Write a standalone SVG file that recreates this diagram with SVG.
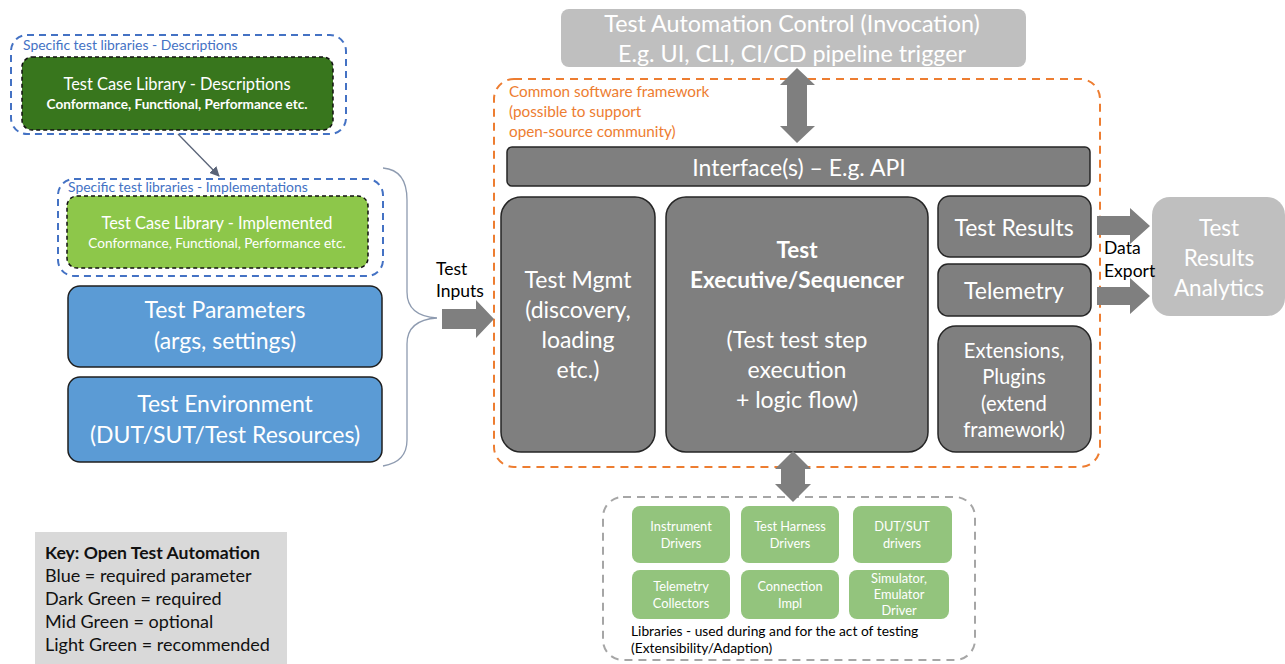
<svg xmlns="http://www.w3.org/2000/svg" width="1285" height="664" viewBox="0 0 1285 664">
<style>
text{font-family:Lato,"Liberation Sans",sans-serif;}
.w{fill:#ffffff;text-anchor:middle;}
.dk{fill:#7f7f7f;stroke:#262626;stroke-width:1.5;}
.lg{fill:#bfbfbf;}
.blue{fill:#5b9bd5;stroke:#1f1f1f;stroke-width:1.5;}
.lib{fill:#93c47d;}
.bdash{fill:none;stroke:#4472c4;stroke-width:2;stroke-dasharray:7,5;}
.odash{fill:none;stroke:#ed7d31;stroke-width:2;stroke-dasharray:8,6;}
.gdash{fill:none;stroke:#a6a6a6;stroke-width:2;stroke-dasharray:8,6;}
.arr{fill:#7f7f7f;}
.t21{font-size:23px;}
.t13{font-size:12.8px;}
</style>
<defs>
<marker id="ah" markerWidth="10" markerHeight="10" refX="9" refY="5" orient="auto" markerUnits="userSpaceOnUse"><path d="M0,0 L10,5 L0,10 z" fill="#5a6478"/></marker>
</defs>

<g id="control">
<rect x="561" y="9" width="465" height="58" rx="8" class="lg"/>
<text class="w" x="792" y="32" style="font-size:23.3px">Test Automation Control (Invocation)</text>
<text class="w" x="792" y="62" style="font-size:23.3px">E.g. UI, CLI, CI/CD pipeline trigger</text>
</g>

<g id="framework">
<rect x="494" y="79" width="606" height="388" rx="20" class="odash"/>
<text x="509" y="97" style="font-size:15.3px;fill:#ed7d31">Common software framework</text>
<text x="509" y="117" style="font-size:15.3px;fill:#ed7d31">(possible to support</text>
<text x="509" y="137" style="font-size:15.3px;fill:#ed7d31">open-source community)</text>
</g>

<g id="interface">
<rect x="507" y="147" width="583" height="39" rx="5" class="dk"/>
<text class="w" x="799" y="176" style="font-size:23px">Interface(s) – E.g. API</text>
</g>

<g id="testmgmt">
<rect x="501" y="197" width="154" height="255" rx="20" class="dk"/>
<text class="w t21" x="578" y="288">Test Mgmt</text>
<text class="w t21" x="578" y="318">(discovery,</text>
<text class="w t21" x="578" y="348">loading</text>
<text class="w t21" x="578" y="378">etc.)</text>
</g>

<g id="executive">
<rect x="666" y="197" width="262" height="255" rx="20" class="dk"/>
<text class="w" x="797" y="258" font-weight="bold" style="font-size:22.5px">Test</text>
<text class="w" x="797" y="288" font-weight="bold" style="font-size:22.5px">Executive/Sequencer</text>
<text class="w t21" x="797" y="348">(Test test step</text>
<text class="w t21" x="797" y="378">execution</text>
<text class="w t21" x="797" y="408">+ logic flow)</text>
</g>

<g id="results">
<rect x="938" y="196" width="153" height="61" rx="12" class="dk"/>
<text class="w t21" x="1014" y="236">Test Results</text>
</g>

<g id="telemetry">
<rect x="938" y="264" width="153" height="52" rx="10" class="dk"/>
<text class="w t21" x="1014" y="299">Telemetry</text>
</g>

<g id="extensions">
<rect x="938" y="326" width="153" height="126" rx="18" class="dk"/>
<text class="w" x="1014" y="358" style="font-size:20.2px">Extensions,</text>
<text class="w" x="1014" y="384" style="font-size:20.2px">Plugins</text>
<text class="w" x="1014" y="411" style="font-size:20.2px">(extend</text>
<text class="w" x="1014" y="437" style="font-size:20.2px">framework)</text>
</g>

<g id="analytics">
<rect x="1152" y="197" width="133" height="119" rx="18" class="lg"/>
<text class="w" x="1219" y="236" style="font-size:22.5px">Test</text>
<text class="w" x="1219" y="266" style="font-size:22.5px">Results</text>
<text class="w" x="1219" y="296" style="font-size:22.5px">Analytics</text>
</g>

<g id="libraries">
<rect x="603" y="497" width="372" height="163" rx="20" class="gdash"/>
<rect x="632" y="506" width="98" height="57" rx="8" class="lib"/>
<text class="w t13" x="681" y="531">Instrument</text>
<text class="w t13" x="681" y="548">Drivers</text>
<rect x="741" y="506" width="98" height="57" rx="8" class="lib"/>
<text class="w t13" x="790" y="531">Test Harness</text>
<text class="w t13" x="790" y="548">Drivers</text>
<rect x="853" y="506" width="99" height="57" rx="8" class="lib"/>
<text class="w t13" x="902" y="531">DUT/SUT</text>
<text class="w t13" x="902" y="548">drivers</text>
<rect x="632" y="570" width="98" height="49" rx="8" class="lib"/>
<text class="w t13" x="681" y="591">Telemetry</text>
<text class="w t13" x="681" y="608">Collectors</text>
<rect x="741" y="570" width="98" height="49" rx="8" class="lib"/>
<text class="w t13" x="790" y="591">Connection</text>
<text class="w t13" x="790" y="608">Impl</text>
<rect x="849" y="570" width="100" height="49" rx="8" class="lib"/>
<text class="w t13" x="899" y="583">Simulator,</text>
<text class="w t13" x="899" y="599">Emulator</text>
<text class="w t13" x="899" y="615">Driver</text>
<text x="631" y="636" style="font-size:13.8px;fill:#000">Libraries - used during and for the act of testing</text>
<text x="631" y="653" style="font-size:13.8px;fill:#000">(Extensibility/Adaption)</text>
</g>

<g id="descriptions">
<rect x="11" y="35" width="335" height="99" rx="16" class="bdash"/>
<text x="23" y="50" style="font-size:13.9px;fill:#4472c4">Specific test libraries - Descriptions</text>
<rect x="22" y="57" width="311" height="73" rx="10" fill="#38761d" stroke="#111" stroke-width="1.5" stroke-dasharray="4,3"/>
<text class="w" x="177" y="90" style="font-size:16.4px">Test Case Library - Descriptions</text>
<text class="w" x="177" y="109" style="font-size:13.6px" font-weight="bold">Conformance, Functional, Performance etc.</text>
</g>

<g id="implementations">
<rect x="58" y="179" width="325" height="97" rx="16" class="bdash"/>
<text x="68" y="192" style="font-size:13.9px;fill:#4472c4">Specific test libraries - Implementations</text>
<rect x="67" y="196" width="301" height="72" rx="10" fill="#8dc74a" stroke="#111" stroke-width="1.5" stroke-dasharray="4,3"/>
<text class="w" x="217" y="229" style="font-size:16.4px">Test Case Library - Implemented</text>
<text class="w" x="217" y="248" style="font-size:13.6px">Conformance, Functional, Performance etc.</text>
</g>

<g id="parameters">
<rect x="68" y="286" width="314" height="81" rx="12" class="blue"/>
<text class="w t21" x="225" y="318">Test Parameters</text>
<text class="w t21" x="225" y="349">(args, settings)</text>
</g>

<g id="environment">
<rect x="68" y="377" width="314" height="85" rx="12" class="blue"/>
<text class="w t21" x="225" y="412">Test Environment</text>
<text class="w t21" x="225" y="443">(DUT/SUT/Test Resources)</text>
</g>

<g id="key">
<rect x="35" y="532" width="252" height="140" fill="#d9d9d9"/>
<text x="45" y="559" style="font-size:17.6px;fill:#111" font-weight="bold">Key: Open Test Automation</text>
<text x="45" y="582" style="font-size:18px;fill:#111">Blue = required parameter</text>
<text x="45" y="605" style="font-size:18px;fill:#111">Dark Green = required</text>
<text x="45" y="628" style="font-size:18px;fill:#111">Mid Green = optional</text>
<text x="45" y="651" style="font-size:18px;fill:#111">Light Green = recommended</text>
</g>

<g id="connectors">
<line x1="178" y1="134" x2="219" y2="176" stroke="#5a6478" stroke-width="1.3" marker-end="url(#ah)"/>
<path d="M383,168 Q407,170 407,200 L407,292 Q407,316 437,318 Q407,320 407,344 L407,440 Q407,462 383,466" fill="none" stroke="#8e9bb0" stroke-width="1.3"/>
<text x="436" y="275" style="font-size:17.5px;fill:#000">Test</text>
<text x="436" y="297" style="font-size:17.5px;fill:#000">Inputs</text>
<polygon class="arr" points="442,309 476,309 476,300 494,319 476,338 476,329 442,329"/>
<polygon class="arr" points="797,68 815,85 807,85 807,126 815,126 797,143 780,126 787,126 787,85 780,85"/>
<polygon class="arr" points="793,451 811,469 805,469 805,484 811,484 793,502 775,484 781,484 781,469 775,469"/>
<polygon class="arr" points="1097,216 1130,216 1130,208 1150,226 1130,244 1130,235 1097,235"/>
<polygon class="arr" points="1097,287 1130,287 1130,278 1150,296 1130,314 1130,305 1097,305"/>
<text x="1104" y="254" style="font-size:17.5px;fill:#000">Data</text>
<text x="1104" y="277" style="font-size:17.5px;fill:#000">Export</text>
</g>
</svg>
